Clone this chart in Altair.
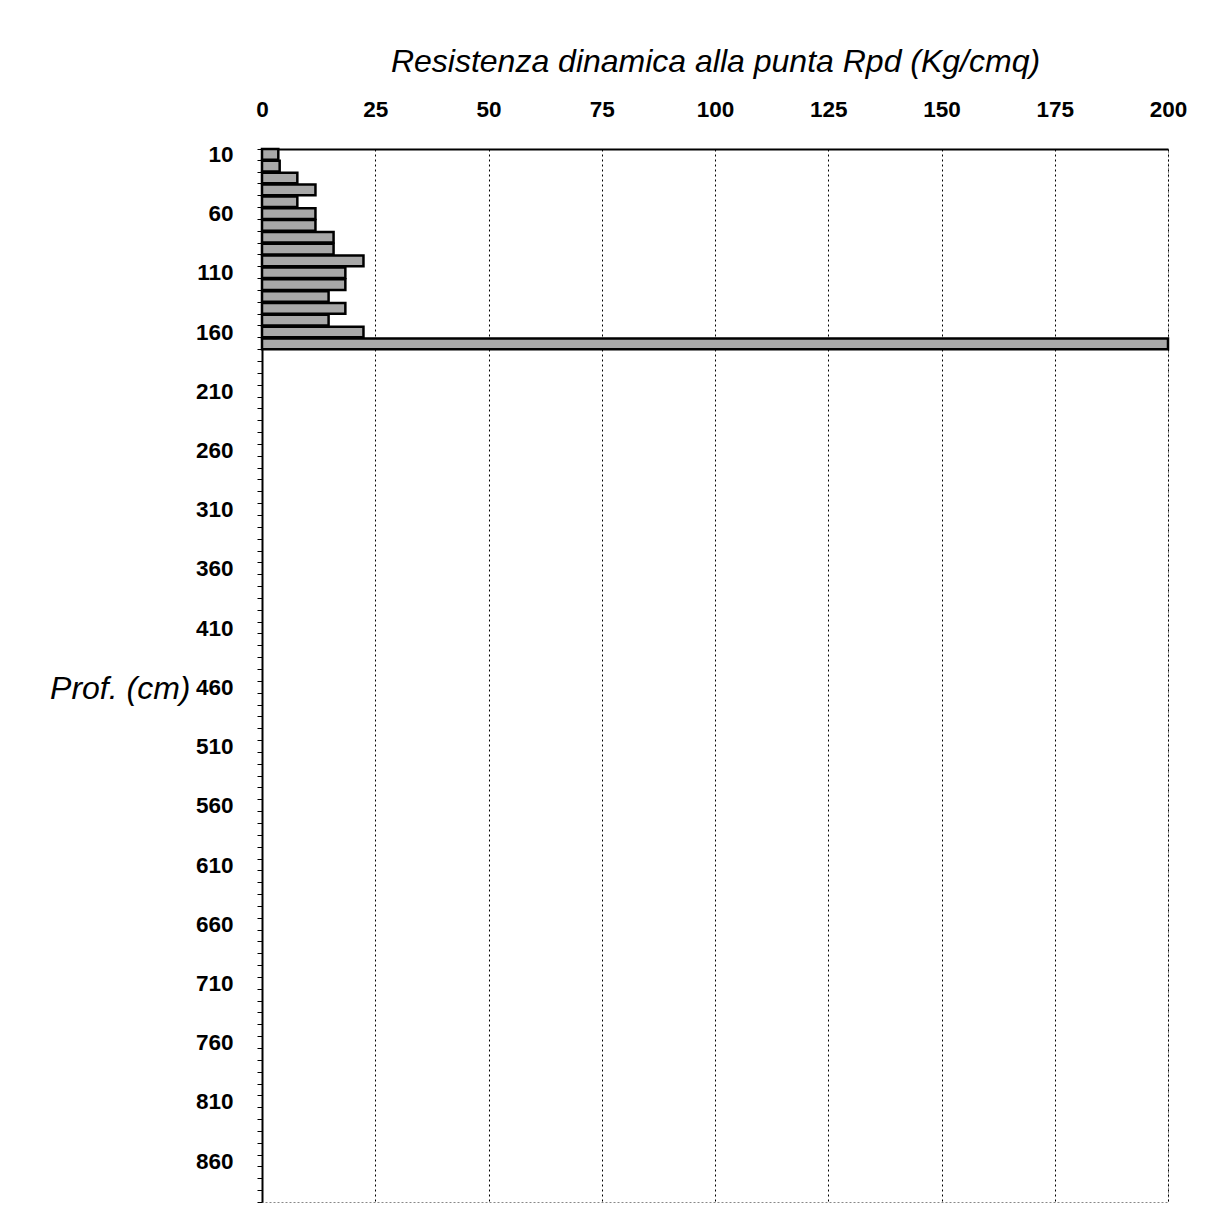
import altair as alt
import pandas as pd

# depth categories (cm) on the vertical axis
depths = list(range(10, 900, 10))
# measured depths and resistance values (Kg/cmq)
bar_depths = [10, 20, 30, 40, 50, 60, 70, 80, 90, 100, 110, 120, 130, 140, 150, 160, 170]
rpd = [3.6, 3.9, 7.8, 11.8, 7.8, 11.8, 11.8, 15.8, 15.8, 22.4, 18.4, 18.4, 14.7, 18.4, 14.7, 22.4, 200]
x_ticks = [0, 25, 50, 75, 100, 125, 150, 175, 200]

df = pd.DataFrame({"depth": bar_depths, "rpd": rpd})

FONT = "Liberation Sans"

bars = alt.Chart(df).mark_bar(
    fill="#a8a8a8", stroke="black", strokeWidth=2.5
).encode(
    x=alt.X(
        "rpd:Q",
        scale=alt.Scale(domain=[0, 200], nice=False, zero=True),
        axis=alt.Axis(
            orient="top",
            values=x_ticks,
            title="Resistenza dinamica alla punta Rpd (Kg/cmq)",
            titleFont=FONT,
            titleFontSize=32,
            titleFontStyle="italic",
            titleFontWeight="normal",
            titleColor="black",
            titlePadding=20,
            labelFont=FONT,
            labelFontSize=22.5,
            labelFontWeight="bold",
            labelColor="black",
            labelPadding=28,
            labelFlush=False,
            ticks=False,
            domainColor="black",
            domainWidth=2,
            grid=True,
            gridColor="black",
            gridDash=[2, 3],
            gridWidth=1,
            gridOpacity=1,
        ),
    ),
    y=alt.Y(
        "depth:O",
        scale=alt.Scale(domain=depths, paddingInner=0.1, paddingOuter=0),
        axis=alt.Axis(
            title="Prof. (cm)",
            titleAngle=0,
            titleAlign="right",
            titleBaseline="middle",
            titleX=-72,
            titleY=539,
            titleFont=FONT,
            titleFontSize=32,
            titleFontStyle="italic",
            titleFontWeight="normal",
            titleColor="black",
            labelExpr="(datum.value - 10) % 50 == 0 ? datum.label : ''",
            labelFont=FONT,
            labelFontSize=22.5,
            labelFontWeight="bold",
            labelColor="black",
            labelPadding=24,
            tickBand="extent",
            tickSize=5,
            tickColor="black",
            tickWidth=1,
            domainColor="black",
            domainWidth=2,
            grid=False,
        ),
    ),
).properties(width=906, height=1053)

chart = bars.configure_view(
    stroke="#888888", strokeDash=[2, 2], strokeWidth=1
).properties(
    padding={"left": 41, "top": 37, "right": 0, "bottom": 0},
    background="white",
)

chart.save("out.html", embed_options={"renderer": "svg", "actions": False})
